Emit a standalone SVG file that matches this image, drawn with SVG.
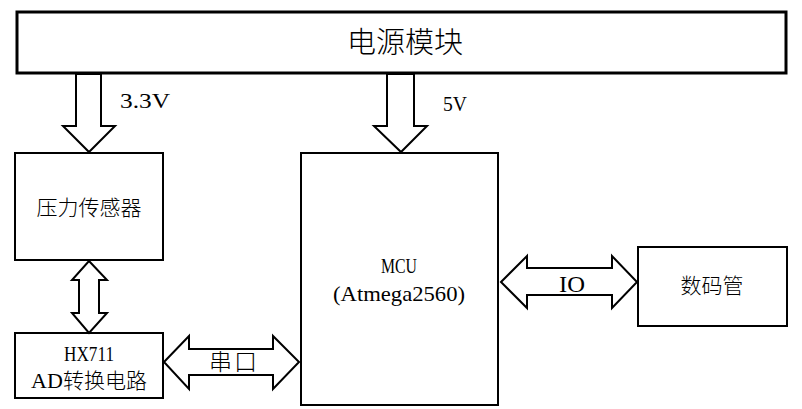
<svg xmlns="http://www.w3.org/2000/svg" width="802" height="409" viewBox="0 0 802 409">
<style>
.box{fill:#fff;stroke:#000;stroke-width:2}
.arr{fill:#fff;stroke:#000;stroke-width:2;stroke-linejoin:miter}
.cn{font-family:"Noto Sans CJK SC",sans-serif;fill:#000;text-anchor:middle;font-weight:300}
.lt{font-family:"Liberation Serif",serif;fill:#000;text-anchor:middle}
</style>
<rect width="802" height="409" fill="#fff"/>
<g id="power">
<rect x="17" y="12" width="769" height="61" fill="#fff" stroke="#000" stroke-width="3"/>
<text class="cn" x="405" y="53" font-size="29" font-weight="400">电源模块</text>
</g>
<g id="sensor">
<rect class="box" x="15" y="153" width="148" height="107"/>
<text class="cn" x="89" y="215" font-size="21">压力传感器</text>
</g>
<g id="hx711">
<rect class="box" x="15" y="333" width="148" height="65"/>
<text class="lt" x="89" y="361" font-size="22" textLength="50" lengthAdjust="spacingAndGlyphs">HX711</text>
<text class="cn" x="89" y="388" font-size="21"><tspan font-family="Liberation Serif" font-size="22">AD</tspan>转换电路</text>
</g>
<g id="mcu">
<rect class="box" x="301" y="153" width="197" height="252"/>
<text class="lt" x="399" y="273" font-size="22" textLength="36" lengthAdjust="spacingAndGlyphs">MCU</text>
<text class="lt" x="399" y="301" font-size="22" textLength="132" lengthAdjust="spacingAndGlyphs">(Atmega2560)</text>
</g>
<g id="display">
<rect class="box" x="638" y="247" width="149" height="79"/>
<text class="cn" x="712" y="293" font-size="21">数码管</text>
</g>
<g id="connectors">
<path class="arr" d="M76,74 H101 V126 H115 L89,152 L63,126 H76 Z"/>
<text class="lt" x="145" y="108" font-size="21" textLength="50" lengthAdjust="spacingAndGlyphs">3.3V</text>
<path class="arr" d="M387,74 H414 V126 H427 L401,152 L374,126 H387 Z"/>
<text class="lt" x="455" y="111" font-size="21" textLength="24" lengthAdjust="spacingAndGlyphs">5V</text>
<path class="arr" d="M89,261 L107,280 H99 V313 H107 L89,333 L72,313 H79 V280 H72 Z"/>
<path class="arr" d="M164,362 L189,336 V349 H273 V336 L299,362 L273,389 V375 H189 V389 Z"/>
<text class="cn" x="234" y="370" font-size="23" letter-spacing="2">串口</text>
<path class="arr" d="M501,282 L527,256 V268 H612 V256 L637,282 L612,308 V295 H527 V308 Z"/>
<text class="lt" x="572" y="292" font-size="23" textLength="26" lengthAdjust="spacingAndGlyphs">IO</text>
</g>
</svg>
